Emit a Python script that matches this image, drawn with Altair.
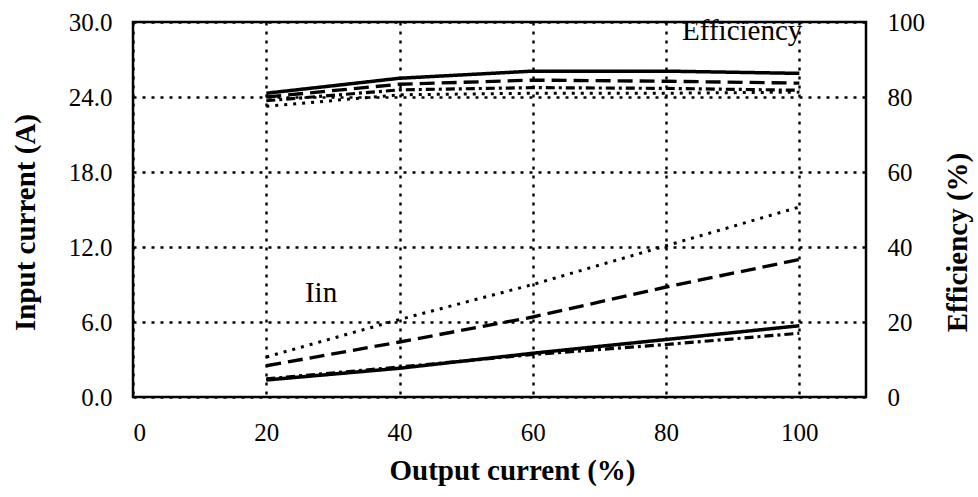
import altair as alt
import pandas as pd

# Output current (% of rated)
load = [20, 40, 60, 80, 100]
series = ["A", "B", "C", "D"]

# Efficiency (%) per series
eff_A = [81.0, 85.0, 86.9, 86.9, 86.3]
eff_B = [80.0, 83.4, 84.5, 84.2, 83.7]
eff_C = [79.0, 81.9, 82.5, 82.3, 81.8]
eff_D = [77.5, 80.6, 81.0, 81.0, 81.3]

# Input current (A) per series
iin_A = [1.36, 2.3, 3.5, 4.6, 5.7]
iin_B = [2.5, 4.4, 6.4, 8.8, 11.0]
iin_C = [1.45, 2.4, 3.4, 4.2, 5.1]
iin_D = [3.2, 6.2, 9.0, 12.1, 15.2]

x_ticks = [0, 20, 40, 60, 80, 100]
left_ticks = [0, 6, 12, 18, 24, 30]
right_ticks = [0, 20, 40, 60, 80, 100]

labels = ["Efficiency", "Iin"]
label_x = [82.4, 25.8]
label_y = [28.6, 7.6]

eff_all = {"A": eff_A, "B": eff_B, "C": eff_C, "D": eff_D}
iin_all = {"A": iin_A, "B": iin_B, "C": iin_C, "D": iin_D}

df_eff = pd.DataFrame([
    {"load": l, "value": v, "series": s}
    for s in series for l, v in zip(load, eff_all[s])
])
df_iin = pd.DataFrame([
    {"load": l, "value": v, "series": s}
    for s in series for l, v in zip(load, iin_all[s])
])
df_txt = pd.DataFrame({"text": labels, "x": label_x, "y": label_y})

FONT = "Liberation Serif"

dash = alt.StrokeDash(
    "series:N",
    scale=alt.Scale(domain=series, range=[[1, 0], [15, 7], [9, 4, 3, 4], [3, 6]]),
    legend=None,
)
width_enc = alt.StrokeWidth(
    "series:N",
    scale=alt.Scale(domain=series, range=[3.5, 3, 3, 3]),
    legend=None,
)

x_enc = alt.X(
    "load:Q",
    scale=alt.Scale(domain=[0, 110], nice=False),
    axis=alt.Axis(
        values=x_ticks,
        title="Output current (%)",
        labelPadding=23,
        titleX=379,
        titleY=73,
        titleBaseline="middle",
        titleAlign="center",
        grid=True,
    ),
)

cur = alt.Chart(df_iin).mark_line(color="black").encode(
    x=x_enc,
    y=alt.Y(
        "value:Q",
        scale=alt.Scale(domain=[0, 30], nice=False),
        axis=alt.Axis(
            values=left_ticks,
            format=".1f",
            title="Input current (A)",
            orient="left",
            labelPadding=21,
            titleAngle=270,
            titleX=-108,
            titleY=200,
            titleBaseline="middle",
            titleAlign="center",
            grid=True,
        ),
    ),
    strokeDash=dash,
    strokeWidth=width_enc,
    detail="series:N",
)

eff = alt.Chart(df_eff).mark_line(color="black").encode(
    x=alt.X("load:Q"),
    y=alt.Y(
        "value:Q",
        scale=alt.Scale(domain=[0, 100], nice=False),
        axis=alt.Axis(
            values=right_ticks,
            format="d",
            title="Efficiency (%)",
            orient="right",
            labelPadding=21,
            titleAngle=270,
            titleX=91,
            titleY=220,
            titleBaseline="middle",
            titleAlign="center",
            grid=False,
        ),
    ),
    strokeDash=dash,
    strokeWidth=width_enc,
    detail="series:N",
)

txt = alt.Chart(df_txt).mark_text(
    font=FONT, fontSize=29, color="black", align="left", baseline="alphabetic"
).encode(
    x=alt.X("x:Q"),
    y=alt.Y("y:Q", scale=alt.Scale(domain=[0, 30], nice=False), axis=None),
    text="text:N",
)

chart = (
    alt.layer(cur, eff, txt)
    .resolve_scale(y="independent")
    .properties(
        width=733,
        height=375,
        autosize=alt.AutoSizeParams(type="none"),
        padding={"left": 133, "top": 22, "right": 112, "bottom": 100},
        background="white",
    )
    .configure_view(stroke="black", strokeWidth=2.5)
    .configure_axis(
        labelFont=FONT,
        labelFontSize=25,
        labelColor="black",
        titleFont=FONT,
        titleFontSize=29,
        titleFontWeight="bold",
        titleColor="black",
        domain=False,
        ticks=False,
        gridColor="black",
        gridDash=[3, 6],
        gridWidth=2.4,
        gridOpacity=1,
    )
)

chart.save("out.html", embed_options={"renderer": "svg", "actions": False})
